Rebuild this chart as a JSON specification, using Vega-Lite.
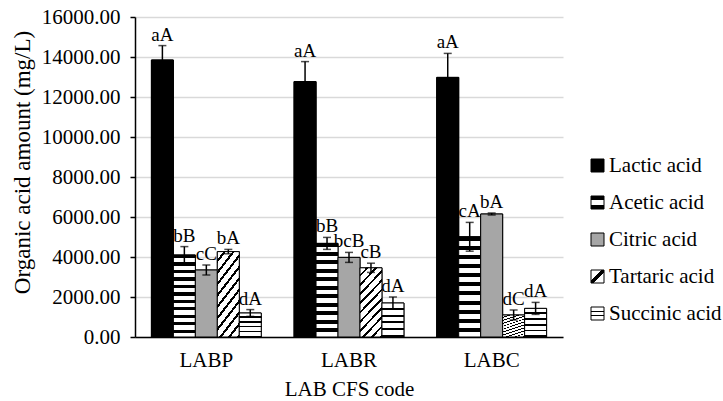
{
  "$schema": "https://vega.github.io/schema/vega-lite/v6.json",
  "width": 428,
  "height": 320,
  "autosize": {"type": "none"},
  "padding": {"left": 135, "top": 17, "right": 160, "bottom": 64},
  "background": "white",
  "config": {
    "view": {"stroke": null},
    "font": "Liberation Serif",
    "axis": {"labelFont": "Liberation Serif", "titleFont": "Liberation Serif"},
    "axisY": {
      "labelOverlap": false,
      "labelFontSize": 21,
      "labelColor": "black",
      "labelPadding": 10,
      "tickColor": "black",
      "tickSize": 5,
      "tickWidth": 1.5,
      "domainColor": "black",
      "domainWidth": 1.5,
      "gridColor": "#d9d9d9",
      "gridWidth": 1.5,
      "titleFontSize": 23,
      "titleFontWeight": "normal",
      "titleColor": "black",
      "titleX": -113,
      "titleY": 145,
      "titleBaseline": "middle"
    },
    "legend": {"labelFont": "Liberation Serif"}
  },
  "data": {
    "values": [
      {"group": "LABP", "acid": "Lactic acid", "value": 13850, "lo": 13130, "hi": 14570, "label": "aA"},
      {"group": "LABP", "acid": "Acetic acid", "value": 4100, "lo": 3680, "hi": 4520, "label": "bB"},
      {"group": "LABP", "acid": "Citric acid", "value": 3350, "lo": 3100, "hi": 3600, "label": "cC"},
      {"group": "LABP", "acid": "Tartaric acid", "value": 4270, "lo": 4160, "hi": 4380, "label": "bA"},
      {"group": "LABP", "acid": "Succinic acid", "value": 1200, "lo": 1030, "hi": 1370, "label": "dA"},
      {"group": "LABR", "acid": "Lactic acid", "value": 12770, "lo": 11770, "hi": 13770, "label": "aA"},
      {"group": "LABR", "acid": "Acetic acid", "value": 4680, "lo": 4380, "hi": 4980, "label": "bB"},
      {"group": "LABR", "acid": "Citric acid", "value": 3980, "lo": 3730, "hi": 4230, "label": "bcB"},
      {"group": "LABR", "acid": "Tartaric acid", "value": 3460, "lo": 3230, "hi": 3690, "label": "cB"},
      {"group": "LABR", "acid": "Succinic acid", "value": 1700, "lo": 1400, "hi": 2000, "label": "dA"},
      {"group": "LABC", "acid": "Lactic acid", "value": 12980, "lo": 11780, "hi": 14180, "label": "aA"},
      {"group": "LABC", "acid": "Acetic acid", "value": 5010, "lo": 4290, "hi": 5730, "label": "cA"},
      {"group": "LABC", "acid": "Citric acid", "value": 6150, "lo": 6100, "hi": 6200, "label": "bA"},
      {"group": "LABC", "acid": "Tartaric acid", "value": 1100, "lo": 850, "hi": 1350, "label": "dC"},
      {"group": "LABC", "acid": "Succinic acid", "value": 1430, "lo": 1130, "hi": 1730, "label": "dA"}
    ]
  },
  "encoding": {
    "x": {
      "field": "group",
      "type": "nominal",
      "sort": ["LABP", "LABR", "LABC"],
      "scale": {"paddingInner": 0.23, "paddingOuter": 0.115},
      "title": "LAB CFS code",
      "axis": {
        "labelAngle": 0,
        "labelFont": "Liberation Serif",
        "labelFontSize": 21,
        "labelColor": "black",
        "labelPadding": 12,
        "ticks": false,
        "domainColor": "black",
        "domainWidth": 1.5,
        "titleFont": "Liberation Serif",
        "titleFontSize": 21,
        "titleFontWeight": "normal",
        "titleColor": "black",
        "titlePadding": 8
      }
    },
    "xOffset": {
      "field": "acid",
      "type": "nominal",
      "sort": ["Lactic acid", "Acetic acid", "Citric acid", "Tartaric acid", "Succinic acid"],
      "scale": {"paddingInner": 0, "paddingOuter": 0}
    }
  },
  "layer": [
    {
      "mark": {"type": "bar", "stroke": "black", "strokeWidth": 1},
      "encoding": {
        "y": {
          "field": "value",
          "type": "quantitative",
          "title": "Organic acid amount (mg/L)",
          "scale": {"domain": [0, 16000], "nice": false},
          "axis": {"values": [0, 2000, 4000, 6000, 8000, 10000, 12000, 14000, 16000], "format": ".2f"}
        },
        "color": {
          "field": "acid",
          "type": "nominal",
          "scale": {
            "domain": ["Lactic acid", "Acetic acid", "Citric acid", "Tartaric acid", "Succinic acid"],
            "range": [
              "#000000",
              {"expr": "{gradient:'linear',x1:0,y1:0,x2:0,y2:1,stops:[{offset:0,color:'#000'},{offset:0.3,color:'#000'},{offset:0.3,color:'#fff'},{offset:0.7,color:'#fff'},{offset:0.7,color:'#000'},{offset:1,color:'#000'}]}"},
              "#a6a6a6",
              {"expr": "{gradient:'linear',x1:0,y1:0,x2:1,y2:1,stops:[{offset:0,color:'#fff'},{offset:0.42,color:'#fff'},{offset:0.42,color:'#000'},{offset:0.58,color:'#000'},{offset:0.58,color:'#fff'},{offset:1,color:'#fff'}]}"},
              {"expr": "{gradient:'linear',x1:0,y1:0,x2:0,y2:1,stops:[{offset:0,color:'#fff'},{offset:0.28,color:'#fff'},{offset:0.28,color:'#000'},{offset:0.4,color:'#000'},{offset:0.4,color:'#fff'},{offset:0.6,color:'#fff'},{offset:0.6,color:'#000'},{offset:0.72,color:'#000'},{offset:0.72,color:'#fff'},{offset:1,color:'#fff'}]}"}
            ]
          },
          "legend": {
            "title": null,
            "orient": "none",
            "legendX": 452,
            "legendY": 138,
            "padding": 0,
            "symbolType": "square",
            "symbolSize": 169,
            "symbolStrokeColor": "black",
            "symbolStrokeWidth": 1,
            "labelFont": "Liberation Serif",
            "labelFontSize": 21,
            "labelColor": "black",
            "labelOffset": 1,
            "rowPadding": 15
          }
        }
      }
    },
    {
      "mark": {"type": "bar", "stroke": "black", "strokeWidth": 1},
      "encoding": {
        "y": {
          "field": "value",
          "type": "quantitative",
          "title": "Organic acid amount (mg/L)",
          "axis": {"values": [0, 2000, 4000, 6000, 8000, 10000, 12000, 14000, 16000], "format": ".2f"}
        },
        "fill": {
          "field": "acid",
          "type": "nominal",
          "legend": null,
          "scale": {
            "domain": ["Lactic acid", "Acetic acid", "Citric acid", "Tartaric acid", "Succinic acid"],
            "range": [
              "#000000",
              {"expr": "{gradient:'linear',x1:0,y1:0,x2:0,y2:1,stops:[{offset:0,color:'#000'},{offset:0.04,color:'#000'},{offset:0.04,color:'#fff'},{offset:0.0909,color:'#fff'},{offset:0.0909,color:'#000'},{offset:0.1309,color:'#000'},{offset:0.1309,color:'#fff'},{offset:0.1818,color:'#fff'},{offset:0.1818,color:'#000'},{offset:0.2218,color:'#000'},{offset:0.2218,color:'#fff'},{offset:0.2727,color:'#fff'},{offset:0.2727,color:'#000'},{offset:0.3127,color:'#000'},{offset:0.3127,color:'#fff'},{offset:0.3636,color:'#fff'},{offset:0.3636,color:'#000'},{offset:0.4036,color:'#000'},{offset:0.4036,color:'#fff'},{offset:0.4545,color:'#fff'},{offset:0.4545,color:'#000'},{offset:0.4945,color:'#000'},{offset:0.4945,color:'#fff'},{offset:0.5455,color:'#fff'},{offset:0.5455,color:'#000'},{offset:0.5855,color:'#000'},{offset:0.5855,color:'#fff'},{offset:0.6364,color:'#fff'},{offset:0.6364,color:'#000'},{offset:0.6764,color:'#000'},{offset:0.6764,color:'#fff'},{offset:0.7273,color:'#fff'},{offset:0.7273,color:'#000'},{offset:0.7673,color:'#000'},{offset:0.7673,color:'#fff'},{offset:0.8182,color:'#fff'},{offset:0.8182,color:'#000'},{offset:0.8582,color:'#000'},{offset:0.8582,color:'#fff'},{offset:0.9091,color:'#fff'},{offset:0.9091,color:'#000'},{offset:0.9491,color:'#000'},{offset:0.9491,color:'#fff'},{offset:1,color:'#fff'}]}"},
              "#a6a6a6",
              {"expr": "{gradient:'linear',x1:0,y1:0,x2:0.4,y2:1.2,stops:[{offset:0,color:'#fff'},{offset:0.07,color:'#fff'},{offset:0.07,color:'#000'},{offset:0.1,color:'#000'},{offset:0.1,color:'#fff'},{offset:0.17,color:'#fff'},{offset:0.17,color:'#000'},{offset:0.2,color:'#000'},{offset:0.2,color:'#fff'},{offset:0.27,color:'#fff'},{offset:0.27,color:'#000'},{offset:0.3,color:'#000'},{offset:0.3,color:'#fff'},{offset:0.37,color:'#fff'},{offset:0.37,color:'#000'},{offset:0.4,color:'#000'},{offset:0.4,color:'#fff'},{offset:0.47,color:'#fff'},{offset:0.47,color:'#000'},{offset:0.5,color:'#000'},{offset:0.5,color:'#fff'},{offset:0.57,color:'#fff'},{offset:0.57,color:'#000'},{offset:0.6,color:'#000'},{offset:0.6,color:'#fff'},{offset:0.67,color:'#fff'},{offset:0.67,color:'#000'},{offset:0.7,color:'#000'},{offset:0.7,color:'#fff'},{offset:0.77,color:'#fff'},{offset:0.77,color:'#000'},{offset:0.8,color:'#000'},{offset:0.8,color:'#fff'},{offset:0.87,color:'#fff'},{offset:0.87,color:'#000'},{offset:0.9,color:'#000'},{offset:0.9,color:'#fff'},{offset:0.97,color:'#fff'},{offset:0.97,color:'#000'},{offset:1,color:'#000'}]}"},
              {"expr": "{gradient:'linear',x1:0,y1:0,x2:0,y2:1,stops:[{offset:0,color:'#fff'},{offset:0.14,color:'#fff'},{offset:0.14,color:'#000'},{offset:0.2,color:'#000'},{offset:0.2,color:'#fff'},{offset:0.34,color:'#fff'},{offset:0.34,color:'#000'},{offset:0.4,color:'#000'},{offset:0.4,color:'#fff'},{offset:0.54,color:'#fff'},{offset:0.54,color:'#000'},{offset:0.6,color:'#000'},{offset:0.6,color:'#fff'},{offset:0.74,color:'#fff'},{offset:0.74,color:'#000'},{offset:0.8,color:'#000'},{offset:0.8,color:'#fff'},{offset:0.94,color:'#fff'},{offset:0.94,color:'#000'},{offset:1,color:'#000'}]}"}
            ]
          }
        }
      }
    },
    {
      "mark": {"type": "rule", "color": "black", "strokeWidth": 1.5},
      "encoding": {
        "y": {
          "field": "lo",
          "type": "quantitative",
          "title": "Organic acid amount (mg/L)",
          "axis": {"values": [0, 2000, 4000, 6000, 8000, 10000, 12000, 14000, 16000], "format": ".2f"}
        },
        "y2": {"field": "hi"}
      }
    },
    {
      "mark": {"type": "tick", "color": "black", "size": 8, "thickness": 1.5},
      "encoding": {
        "y": {
          "field": "lo",
          "type": "quantitative",
          "title": "Organic acid amount (mg/L)",
          "axis": {"values": [0, 2000, 4000, 6000, 8000, 10000, 12000, 14000, 16000], "format": ".2f"}
        }
      }
    },
    {
      "mark": {"type": "tick", "color": "black", "size": 8, "thickness": 1.5},
      "encoding": {
        "y": {
          "field": "hi",
          "type": "quantitative",
          "title": "Organic acid amount (mg/L)",
          "axis": {"values": [0, 2000, 4000, 6000, 8000, 10000, 12000, 14000, 16000], "format": ".2f"}
        }
      }
    },
    {
      "mark": {"type": "text", "font": "Liberation Serif", "fontSize": 19, "dy": -5, "baseline": "alphabetic", "color": "black"},
      "encoding": {
        "y": {
          "field": "hi",
          "type": "quantitative",
          "title": "Organic acid amount (mg/L)",
          "axis": {"values": [0, 2000, 4000, 6000, 8000, 10000, 12000, 14000, 16000], "format": ".2f"}
        },
        "text": {"field": "label"}
      }
    }
  ]
}
